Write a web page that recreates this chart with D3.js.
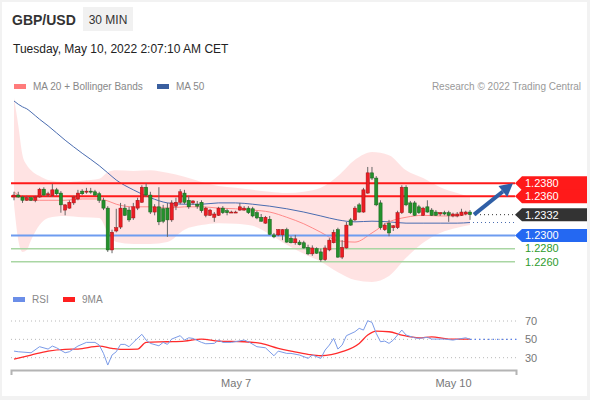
<!DOCTYPE html>
<html>
<head>
<meta charset="utf-8">
<script src="https://cdn.jsdelivr.net/npm/d3@7"></script>
<style>
    body { margin: 0; background: #f2f2f2; font-family: "Liberation Sans", Arial, sans-serif; }
    svg { display: block; }
</style>
</head>
<body>
<script>
// 30 min candles, GBP/USD
var candleOpen = [
    1.2359, 1.2362, 1.2359, 1.2354, 1.2358, 1.2354, 1.2359, 1.2371, 1.2362, 1.2361,
    1.2370, 1.2365, 1.2339, 1.2342, 1.2350, 1.2356, 1.2368, 1.2367, 1.2368, 1.2367,
    1.2364, 1.2354, 1.2342, 1.2278, 1.2307, 1.2313, 1.2342, 1.2339, 1.2327, 1.2342,
    1.2351, 1.2374, 1.2362, 1.2336, 1.2344, 1.2341, 1.2342, 1.2324, 1.2345, 1.2351,
    1.2365, 1.2354, 1.2350, 1.2348, 1.2351, 1.2331, 1.2331, 1.2328, 1.2331, 1.2342,
    1.2338, 1.2336, 1.2336, 1.2339, 1.2339, 1.2342, 1.2341, 1.2335, 1.2328, 1.2319,
    1.2325, 1.2301, 1.2301, 1.2301, 1.2309, 1.2296, 1.2289, 1.2290, 1.2289, 1.2282,
    1.2272, 1.2280, 1.2275, 1.2263, 1.2278, 1.2289, 1.2309, 1.2267, 1.2281, 1.2324,
    1.2324, 1.2347, 1.2336, 1.2365, 1.2396, 1.2388, 1.2350, 1.2309, 1.2319, 1.2312,
    1.2312, 1.2335, 1.2374, 1.2350, 1.2350, 1.2344, 1.2331, 1.2344, 1.2339, 1.2336,
    1.2333, 1.2335, 1.2335, 1.2330, 1.2330, 1.2331, 1.2333, 1.2336
];
var candleHigh = [
    1.2367, 1.2367, 1.2361, 1.2361, 1.2359, 1.2361, 1.2373, 1.2374, 1.2367, 1.2379,
    1.2373, 1.2368, 1.2348, 1.2354, 1.2361, 1.2370, 1.2371, 1.2373, 1.2373, 1.2370,
    1.2367, 1.2358, 1.2345, 1.2309, 1.2341, 1.2350, 1.2348, 1.2344, 1.2350, 1.2358,
    1.2377, 1.2380, 1.2367, 1.2348, 1.2374, 1.2347, 1.2350, 1.2354, 1.2358, 1.2371,
    1.2370, 1.2361, 1.2354, 1.2353, 1.2354, 1.2344, 1.2341, 1.2336, 1.2344, 1.2345,
    1.2341, 1.2338, 1.2338, 1.2350, 1.2345, 1.2345, 1.2344, 1.2338, 1.2333, 1.2330,
    1.2330, 1.2304, 1.2310, 1.2310, 1.2312, 1.2299, 1.2301, 1.2293, 1.2292, 1.2286,
    1.2285, 1.2282, 1.2280, 1.2285, 1.2296, 1.2309, 1.2312, 1.2293, 1.2321, 1.2327,
    1.2345, 1.2350, 1.2373, 1.2405, 1.2405, 1.2391, 1.2354, 1.2319, 1.2324, 1.2316,
    1.2338, 1.2377, 1.2377, 1.2353, 1.2353, 1.2347, 1.2344, 1.2354, 1.2342, 1.2339,
    1.2336, 1.2338, 1.2338, 1.2335, 1.2336, 1.2341, 1.2338, 1.2339
];
var candleLow = [
    1.2354, 1.2358, 1.2350, 1.2353, 1.2353, 1.2351, 1.2358, 1.2361, 1.2359, 1.2359,
    1.2361, 1.2335, 1.2331, 1.2341, 1.2347, 1.2354, 1.2362, 1.2364, 1.2364, 1.2361,
    1.2350, 1.2339, 1.2275, 1.2273, 1.2305, 1.2310, 1.2330, 1.2321, 1.2324, 1.2339,
    1.2350, 1.2359, 1.2333, 1.2331, 1.2316, 1.2319, 1.2298, 1.2321, 1.2339, 1.2348,
    1.2348, 1.2341, 1.2347, 1.2341, 1.2335, 1.2328, 1.2330, 1.2321, 1.2330, 1.2333,
    1.2331, 1.2335, 1.2335, 1.2338, 1.2338, 1.2333, 1.2328, 1.2325, 1.2321, 1.2318,
    1.2301, 1.2296, 1.2299, 1.2293, 1.2289, 1.2288, 1.2286, 1.2285, 1.2280, 1.2270,
    1.2269, 1.2272, 1.2260, 1.2261, 1.2276, 1.2288, 1.2266, 1.2264, 1.2280, 1.2315,
    1.2322, 1.2335, 1.2335, 1.2364, 1.2385, 1.2345, 1.2309, 1.2307, 1.2299, 1.2307,
    1.2310, 1.2333, 1.2345, 1.2333, 1.2330, 1.2333, 1.2330, 1.2335, 1.2330, 1.2330,
    1.2330, 1.2331, 1.2321, 1.2328, 1.2328, 1.2330, 1.2331, 1.2324
];
var candleClose = [
    1.2362, 1.2359, 1.2354, 1.2358, 1.2354, 1.2359, 1.2371, 1.2362, 1.2364, 1.2370,
    1.2364, 1.2347, 1.2347, 1.2351, 1.2359, 1.2365, 1.2364, 1.2368, 1.2367, 1.2362,
    1.2354, 1.2342, 1.2278, 1.2305, 1.2312, 1.2342, 1.2331, 1.2324, 1.2344, 1.2354,
    1.2374, 1.2362, 1.2336, 1.2344, 1.2321, 1.2322, 1.2324, 1.2350, 1.2351, 1.2367,
    1.2351, 1.2344, 1.2353, 1.2345, 1.2338, 1.2342, 1.2339, 1.2333, 1.2342, 1.2335,
    1.2335, 1.2336, 1.2336, 1.2344, 1.2342, 1.2335, 1.2330, 1.2327, 1.2322, 1.2328,
    1.2302, 1.2298, 1.2309, 1.2309, 1.2290, 1.2289, 1.2295, 1.2286, 1.2281, 1.2272,
    1.2281, 1.2273, 1.2263, 1.2281, 1.2293, 1.2305, 1.2267, 1.2282, 1.2316, 1.2316,
    1.2342, 1.2336, 1.2370, 1.2396, 1.2388, 1.2347, 1.2312, 1.2316, 1.2304, 1.2315,
    1.2335, 1.2374, 1.2347, 1.2335, 1.2331, 1.2335, 1.2342, 1.2336, 1.2331, 1.2331,
    1.2335, 1.2333, 1.2331, 1.2333, 1.2333, 1.2336, 1.2336, 1.2332
];

// overlays, read at these candle positions
var overlayIdx = [0, 1, 2, 3, 4, 6, 8, 12, 16, 20, 22, 24, 28, 32, 36, 40, 44, 48, 52, 56, 60, 64, 68, 72, 76, 80, 84, 88, 92, 96, 100, 104, 107];
var bandUpper = [1.2511, 1.2469, 1.2423, 1.2408, 1.2400, 1.2391, 1.2385, 1.2382, 1.2384, 1.2387, 1.2397, 1.2400, 1.2399, 1.2400, 1.2396, 1.2390, 1.2382, 1.2376, 1.2373, 1.2370, 1.2367, 1.2365, 1.2367, 1.2373, 1.2391, 1.2416, 1.2428, 1.2423, 1.2400, 1.2388, 1.2374, 1.2365, 1.2359];
var bandLower = [1.2347, 1.2293, 1.2275, 1.2278, 1.2293, 1.2316, 1.2327, 1.2330, 1.2328, 1.2327, 1.2305, 1.2290, 1.2287, 1.2287, 1.2290, 1.2309, 1.2316, 1.2319, 1.2318, 1.2315, 1.2302, 1.2286, 1.2272, 1.2260, 1.2244, 1.2232, 1.2229, 1.2238, 1.2266, 1.2289, 1.2304, 1.2312, 1.2316];
var ma20 = [1.2367, 1.2362, 1.2359, 1.2356, 1.2354, 1.2354, 1.2354, 1.2354, 1.2356, 1.2356, 1.2353, 1.2348, 1.2344, 1.2344, 1.2342, 1.2344, 1.2344, 1.2342, 1.2341, 1.2339, 1.2336, 1.2328, 1.2318, 1.2305, 1.2292, 1.2290, 1.2304, 1.2321, 1.2328, 1.2331, 1.2330, 1.2330, 1.2335];
var ma50 = [1.2506, 1.2501, 1.2497, 1.2494, 1.2489, 1.2478, 1.2468, 1.2446, 1.2426, 1.2407, 1.2396, 1.2385, 1.2370, 1.2358, 1.2350, 1.2348, 1.2348, 1.2350, 1.2350, 1.2348, 1.2345, 1.2341, 1.2336, 1.2330, 1.2324, 1.2321, 1.2322, 1.2321, 1.2319, 1.2319, 1.2319, 1.2319, 1.2320];

var resistLevels = [1.2380, 1.2360];
var lastPrice = 1.2332;
var pivotLevel = 1.2300;
var supportLevels = [1.2280, 1.2260];

var rsiIdx = [0, 1, 4, 6, 8, 9, 10, 12, 13, 15, 17, 19, 20, 21, 22, 23, 24, 25, 26, 27, 28, 30, 31, 32, 34, 35, 36, 37, 39, 40, 41, 42, 44, 45, 47, 48, 49, 51, 54, 55, 57, 59, 61, 62, 64, 65, 67, 69, 70, 72, 73, 74, 75, 76, 77, 78, 80, 81, 82, 83, 84, 85, 86, 87, 88, 89, 91, 92, 94, 95, 97, 98, 101, 103, 106, 107];
var rsiVal = [37.2, 36.5, 35.4, 42, 39.4, 42.7, 40.8, 35.4, 36.5, 42.7, 46.7, 46.7, 43.8, 34.7, 22, 32.9, 36.5, 44.5, 44.5, 42, 46.7, 55.5, 49.2, 45.6, 43, 46.7, 44.5, 50.3, 54, 49.2, 51.7, 51, 46.7, 45.2, 45.6, 49.2, 46.7, 46.7, 49.2, 47.4, 42, 40.8, 32.1, 37.2, 34.7, 34.7, 32.9, 29.3, 32.9, 29.3, 38.3, 43.8, 51.1, 39.4, 43.8, 54, 58.3, 62, 60.1, 70.3, 68.5, 56.5, 47.4, 48.1, 45.6, 49.2, 60.1, 54.7, 51.7, 51, 52.2, 50.3, 50.3, 49.2, 51.7, 50];
var ma9Idx = [0, 4, 8, 12, 15, 20, 23, 25, 29, 31, 36, 40, 44, 48, 54, 58, 62, 65, 69, 72, 77, 81, 83, 85, 88, 91, 95, 98, 102, 107];
var ma9Val = [28.5, 32.9, 37.2, 39.1, 39.4, 42.7, 40.2, 39.1, 39.4, 46.7, 47.4, 48.1, 50.3, 48.1, 47.4, 45.6, 40.2, 37.2, 33.6, 32.1, 36.5, 45.6, 54.7, 59, 58.3, 54.7, 51.7, 52.8, 50.3, 50.3];
var rsiLevels = [70, 50, 30];

var dateTickIdx = [52, 103];
var dateTickLabels = ["May 7", "May 10"];

window.onload = function () {
    var width = 590;
    var height = 400;
    var font = "'Liberation Sans', Arial, sans-serif";
    var svg = d3.select("body")
        .append("svg")
        .attr("width", width)
        .attr("height", height)
        .style("font-family", font);

    svg.append("rect")
        .attr("x", 2).attr("y", 2)
        .attr("width", 585).attr("height", 394)
        .attr("fill", "#fff");

    var x = d3.scaleLinear().domain([0, 107]).range([14, 470]);
    var y = d3.scaleLinear().domain([1.2260, 1.2380]).range([261.7, 183.3]);
    var yRsi = d3.scaleLinear().domain([30, 70]).range([357.7, 321]);

    // header
    svg.append("text").attr("x", 12).attr("y", 24.5)
        .attr("fill", "#333").style("font-size", "14px").style("font-weight", "bold")
        .text("GBP/USD");
    svg.append("rect").attr("x", 83).attr("y", 7).attr("width", 50).attr("height", 24)
        .attr("fill", "#f1f1f1");
    svg.append("text").attr("x", 108).attr("y", 23.5).attr("text-anchor", "middle")
        .attr("fill", "#333").style("font-size", "12px")
        .text("30 MIN");
    svg.append("text").attr("x", 13).attr("y", 53)
        .attr("fill", "#222").style("font-size", "12px")
        .text("Tuesday, May 10, 2022 2:07:10 AM CET");

    // legends
    var legend = [
        {x: 14, y: 84, color: "#ff7b7b", label: "MA 20 + Bollinger Bands"},
        {x: 157, y: 84, color: "#3a5f9f", label: "MA 50"},
        {x: 13, y: 297, color: "#6b8ee8", label: "RSI"},
        {x: 63, y: 297, color: "#ff2020", label: "9MA"}
    ];
    var lg = svg.selectAll("g.legend")
        .data(legend)
        .enter()
        .append("g")
        .attr("class", "legend");
    lg.append("rect")
        .attr("x", function (d) { return d.x; })
        .attr("y", function (d) { return d.y; })
        .attr("width", 12).attr("height", 5)
        .attr("fill", function (d) { return d.color; });
    lg.append("text")
        .attr("x", function (d) { return d.x + 19; })
        .attr("y", function (d) { return d.y + 6; })
        .attr("fill", "#888").style("font-size", "10px")
        .text(function (d) { return d.label; });
    svg.append("text").attr("x", 581).attr("y", 90).attr("text-anchor", "end")
        .attr("fill", "#999").style("font-size", "10px")
        .text("Research \u00a9 2022 Trading Central");

    // bollinger bands + moving averages
    var overlay = overlayIdx.map(function (d, i) {
        return {i: d, up: bandUpper[i], lo: bandLower[i], ma20: ma20[i], ma50: ma50[i]};
    });
    var band = d3.area()
        .x(function (d) { return x(d.i); })
        .y0(function (d) { return y(d.lo); })
        .y1(function (d) { return y(d.up); })
        .curve(d3.curveMonotoneX);
    svg.append("path").datum(overlay).attr("d", band)
        .attr("fill", "#ff0000").attr("fill-opacity", 0.11);
    svg.append("path").datum(overlay)
        .attr("d", d3.line()
            .x(function (d) { return x(d.i); })
            .y(function (d) { return y(d.ma50); })
            .curve(d3.curveMonotoneX))
        .attr("fill", "none").attr("stroke", "#4a6cb0").attr("stroke-width", 1);
    svg.append("path").datum(overlay)
        .attr("d", d3.line()
            .x(function (d) { return x(d.i); })
            .y(function (d) { return y(d.ma20); })
            .curve(d3.curveMonotoneX))
        .attr("fill", "none").attr("stroke", "#ff8a8a").attr("stroke-width", 1);

    // key levels
    var levels = [
        {v: resistLevels[0], color: "#ff1a1a", w: 2},
        {v: resistLevels[1], color: "#ff1a1a", w: 2},
        {v: pivotLevel, color: "#6e9cf0", w: 2},
        {v: supportLevels[0], color: "#a9d6a3", w: 1.5},
        {v: supportLevels[1], color: "#a9d6a3", w: 1.5}
    ];
    svg.selectAll("line.level")
        .data(levels)
        .enter()
        .append("line")
        .attr("class", "level")
        .attr("x1", 11).attr("x2", 515)
        .attr("y1", function (d) { return y(d.v); })
        .attr("y2", function (d) { return y(d.v); })
        .attr("stroke", function (d) { return d.color; })
        .attr("stroke-width", function (d) { return d.w; });

    // candles
    var candles = candleClose.map(function (c, i) {
        return {i: i, o: candleOpen[i], h: candleHigh[i], l: candleLow[i], c: c};
    });
    var cg = svg.selectAll("g.candle")
        .data(candles)
        .enter()
        .append("g")
        .attr("class", "candle");
    cg.append("line")
        .attr("x1", function (d) { return x(d.i); })
        .attr("x2", function (d) { return x(d.i); })
        .attr("y1", function (d) { return y(d.h); })
        .attr("y2", function (d) { return y(d.l); })
        .attr("stroke", "#666").attr("stroke-width", 1);
    cg.append("rect")
        .attr("x", function (d) { return x(d.i) - 1.6; })
        .attr("width", 3.2)
        .attr("y", function (d) { return y(Math.max(d.o, d.c)); })
        .attr("height", function (d) { return Math.max(1, Math.abs(y(d.o) - y(d.c))); })
        .attr("fill", function (d) { return d.c >= d.o ? "#ec1c24" : "#23912b"; })
        .attr("stroke", function (d) { return d.c >= d.o ? "#9c1414" : "#175f1c"; })
        .attr("stroke-width", 0.5);

    // projection
    var last = candles[candles.length - 1];
    svg.append("line")
        .attr("x1", x(last.i) + 6).attr("x2", 514)
        .attr("y1", y(lastPrice)).attr("y2", y(lastPrice))
        .attr("stroke", "#333").attr("stroke-dasharray", "1,3");
    svg.append("line")
        .attr("x1", x(last.i) + 3).attr("x2", 514)
        .attr("y1", y(ma50[ma50.length - 1])).attr("y2", y(ma50[ma50.length - 1]))
        .attr("stroke", "#4a6cb0").attr("stroke-dasharray", "1,3");

    var ax0 = x(last.i) + 4, ay0 = y(lastPrice);
    var ax1 = 513, ay1 = y(resistLevels[0]);
    var len = Math.sqrt((ax1 - ax0) * (ax1 - ax0) + (ay1 - ay0) * (ay1 - ay0));
    var ux = (ax1 - ax0) / len, uy = (ay1 - ay0) / len;
    var bx = ax1 - ux * 13, by = ay1 - uy * 13;
    svg.append("line")
        .attr("x1", ax0).attr("y1", ay0).attr("x2", bx).attr("y2", by)
        .attr("stroke", "#2f5fa6").attr("stroke-width", 4);
    svg.append("polygon")
        .attr("points", [[ax1, ay1], [bx - uy * 7, by + ux * 7], [bx + uy * 7, by - ux * 7]].join(" "))
        .attr("fill", "#2f5fa6");

    // right tags
    var tags = [
        {v: resistLevels[0], fill: "#ff1a1a", h: 7},
        {v: resistLevels[1], fill: "#ff1a1a", h: 7},
        {v: lastPrice, fill: "#333", h: 6.5},
        {v: pivotLevel, fill: "#2468f2", h: 6.5}
    ];
    svg.selectAll("polygon.tag")
        .data(tags)
        .enter()
        .append("polygon")
        .attr("class", "tag")
        .attr("points", function (d) {
            var yc = y(d.v);
            return [[515, yc], [522, yc - d.h], [587, yc - d.h], [587, yc + d.h], [522, yc + d.h]].join(" ");
        })
        .attr("fill", function (d) { return d.fill; });
    svg.selectAll("text.tag")
        .data(tags)
        .enter()
        .append("text")
        .attr("class", "tag")
        .attr("x", 525)
        .attr("y", function (d) { return y(d.v); })
        .attr("dy", "0.35em")
        .attr("fill", "#fff").style("font-size", "11px")
        .text(function (d) { return d3.format(".4f")(d.v); });
    svg.selectAll("text.support")
        .data(supportLevels)
        .enter()
        .append("text")
        .attr("class", "support")
        .attr("x", 525)
        .attr("y", function (d) { return y(d); })
        .attr("dy", "0.35em")
        .attr("fill", "#2e9b2e").style("font-size", "11px")
        .text(function (d) { return d3.format(".4f")(d); });

    // RSI panel
    svg.selectAll("line.grid")
        .data(rsiLevels)
        .enter()
        .append("line")
        .attr("class", "grid")
        .attr("x1", 11).attr("x2", 517)
        .attr("y1", function (d) { return yRsi(d); })
        .attr("y2", function (d) { return yRsi(d); })
        .attr("stroke", "#b8b8b8").attr("stroke-dasharray", "1,3");
    svg.selectAll("text.grid")
        .data(rsiLevels)
        .enter()
        .append("text")
        .attr("class", "grid")
        .attr("x", 525)
        .attr("y", function (d) { return yRsi(d); })
        .attr("dy", "0.35em")
        .attr("fill", "#777").style("font-size", "11px")
        .text(function (d) { return d; });

    var rsi = rsiIdx.map(function (d, i) { return {i: d, v: rsiVal[i]}; });
    var ma9 = ma9Idx.map(function (d, i) { return {i: d, v: ma9Val[i]}; });
    var rsiLine = d3.line()
        .x(function (d) { return x(d.i); })
        .y(function (d) { return yRsi(d.v); });
    svg.append("path").datum(ma9)
        .attr("d", rsiLine.curve(d3.curveMonotoneX))
        .attr("fill", "none").attr("stroke", "#ff2b2b").attr("stroke-width", 1.3);
    svg.append("path").datum(rsi)
        .attr("d", rsiLine.curve(d3.curveLinear))
        .attr("fill", "none").attr("stroke", "#7b9be8").attr("stroke-width", 1);
    svg.append("line")
        .attr("x1", x(rsiIdx[rsiIdx.length - 1])).attr("x2", 517)
        .attr("y1", yRsi(rsiVal[rsiVal.length - 1])).attr("y2", yRsi(rsiVal[rsiVal.length - 1]))
        .attr("stroke", "#5b80e8").attr("stroke-width", 1.2).attr("stroke-dasharray", "1.5,3");

    // time axis
    var xAxisScale = d3.scaleLinear().domain([x.invert(11), x.invert(516)]).range([11, 516]);
    var xAxis = d3.axisBottom(xAxisScale)
        .tickValues(dateTickIdx)
        .tickSizeInner(0)
        .tickSizeOuter(5)
        .tickPadding(9)
        .tickFormat(function (d, i) { return dateTickLabels[i]; });
    var gx = svg.append("g")
        .attr("transform", "translate(0,370)")
        .call(xAxis)
        .attr("font-family", font)
        .attr("font-size", 11);
    gx.select(".domain").attr("stroke", "#b4b4b4").attr("stroke-width", 2);
    gx.selectAll("text").attr("fill", "#777");
};
</script>
</body>
</html>
